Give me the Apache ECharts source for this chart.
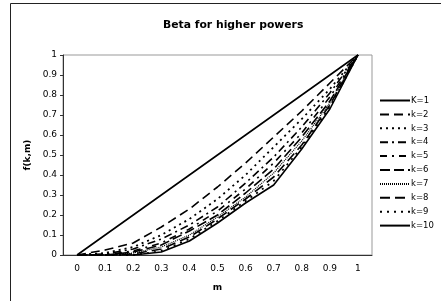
<!DOCTYPE html>
<html>
<head>
<meta charset="utf-8">
<script src="https://cdn.jsdelivr.net/npm/echarts@6/dist/echarts.min.js"></script>
<style>
html, body { margin: 0; padding: 0; background: #fff; }
#container { width: 441px; height: 301px; }
</style>
</head>
<body>
<div id="container"></div>
<script>
var m = ['0', '0.1', '0.2', '0.3', '0.4', '0.5', '0.6', '0.7', '0.8', '0.9', '1'];
var yTicks = [0, 0.1, 0.2, 0.3, 0.4, 0.5, 0.6, 0.7, 0.8, 0.9, 1];

var k1  = [0, 0.1,   0.2,   0.3,   0.4,  0.5,  0.6,  0.7,  0.8,  0.9,  1];
var k2  = [0, 0.025, 0.06,  0.14,  0.23, 0.34, 0.46, 0.59, 0.72, 0.86, 1];
var k3  = [0, 0.01,  0.04,  0.10,  0.18, 0.28, 0.40, 0.54, 0.68, 0.83, 1];
var k4  = [0, 0.005, 0.03,  0.08,  0.15, 0.24, 0.36, 0.49, 0.64, 0.81, 1];
var k5  = [0, 0,     0.02,  0.06,  0.13, 0.22, 0.33, 0.46, 0.61, 0.79, 1];
var k6  = [0, 0,     0.015, 0.05,  0.12, 0.20, 0.31, 0.43, 0.59, 0.77, 1];
var k7  = [0, 0,     0.01,  0.04,  0.10, 0.19, 0.29, 0.41, 0.57, 0.76, 1];
var k8  = [0, 0,     0.005, 0.03,  0.09, 0.18, 0.28, 0.39, 0.55, 0.75, 1];
var k9  = [0, 0,     0,     0.02,  0.08, 0.17, 0.27, 0.37, 0.54, 0.74, 1];
var k10 = [0, 0,     0,     0.015, 0.07, 0.16, 0.26, 0.35, 0.53, 0.73, 1];

var names = ['K=1', 'k=2', 'k=3', 'k=4', 'k=5', 'k=6', 'k=7', 'k=8', 'k=9', 'k=10'];
var values = [k1, k2, k3, k4, k5, k6, k7, k8, k9, k10];
// dash pattern for each k
var dashes = ['solid', [9, 5], [2, 4], [8, 4, 2, 4], [7, 5, 2, 5], [10, 4], [1, 1], [10, 5], [2, 5], 'solid'];
var widths = [1.6, 1.6, 1.8, 1.6, 1.6, 1.6, 1.2, 1.6, 1.8, 1.6];

var font = 'DejaVu Sans';
var myChart = echarts.init(document.getElementById('container'));

var series = names.map(function (n, i) {
    return {
        name: n,
        type: 'line',
        data: values[i],
        symbol: 'none',
        color: '#000',
        lineStyle: { color: '#000', width: widths[i], type: dashes[i] }
    };
});

myChart.setOption({
    animation: false,
    graphic: [{
        type: 'rect',
        shape: { x: 10.5, y: 3.5, width: 440, height: 310 },
        style: { fill: 'none', stroke: '#222', lineWidth: 1 }
    }],
    title: {
        text: 'Beta for higher powers',
        left: 158, top: 15,
        textStyle: { fontFamily: font, fontSize: 10.8, fontWeight: 'bold', color: '#000' }
    },
    legend: {
        orient: 'vertical',
        left: 374, top: 91,
        itemWidth: 30, itemHeight: 8, itemGap: 4.9,
        data: names,
        itemStyle: { opacity: 0 },
        textStyle: { fontFamily: font, fontSize: 8.5, color: '#000', padding: [0, 0, 0, -4] }
    },
    grid: { left: 63, right: 69, top: 55, bottom: 46, show: true, borderColor: '#999', borderWidth: 1 },
    xAxis: {
        type: 'category',
        data: m,
        boundaryGap: true,
        name: 'm', nameLocation: 'middle', nameGap: 28,
        nameTextStyle: { fontFamily: font, fontSize: 9, fontWeight: 'bold', color: '#000' },
        axisLine: { lineStyle: { color: '#333', width: 1 } },
        axisTick: { length: 3, lineStyle: { color: '#333' } },
        axisLabel: { fontFamily: font, fontSize: 9, color: '#000', margin: 9 },
        splitLine: { show: false }
    },
    yAxis: {
        type: 'value',
        min: 0, max: 1, interval: 0.1,
        name: 'f(k,m)', nameLocation: 'middle', nameGap: 31, nameRotate: 90,
        nameTextStyle: { fontFamily: font, fontSize: 9, fontWeight: 'bold', color: '#000' },
        axisLine: { show: true, lineStyle: { color: '#333', width: 1 } },
        axisTick: { show: true, length: 3, lineStyle: { color: '#333' } },
        axisLabel: {
            fontFamily: font, fontSize: 9, color: '#000', margin: 6,
            formatter: function (v) { return String(yTicks[Math.round(v * 10)]); }
        },
        splitLine: { show: false }
    },
    series: series
});
</script>
</body>
</html>
